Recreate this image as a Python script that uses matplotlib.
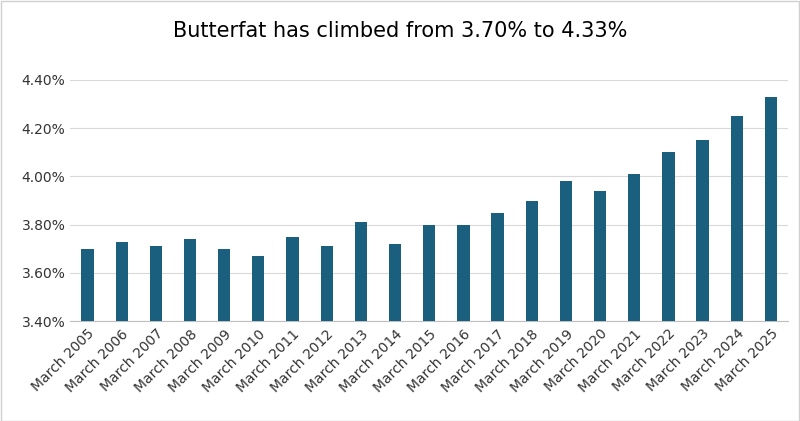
import matplotlib
matplotlib.use("Agg")
import matplotlib.pyplot as plt
from matplotlib.ticker import FuncFormatter

years = list(range(2005, 2026))
labels = [f"March {y}" for y in years]
butterfat = [3.70, 3.73, 3.71, 3.74, 3.70, 3.67, 3.75, 3.71, 3.81, 3.72, 3.80,
             3.80, 3.85, 3.90, 3.98, 3.94, 4.01, 4.10, 4.15, 4.25, 4.33]

fig = plt.figure(figsize=(8, 4.21), dpi=100)
ax = fig.add_axes([0.088, 0.237, 0.897, 0.573])
x = range(len(labels))
ax.bar(x, butterfat, width=0.36, color="#1b5f7f", zorder=3)
ax.set_ylim(3.40, 4.40)
ax.set_yticks([3.40, 3.60, 3.80, 4.00, 4.20, 4.40])
ax.yaxis.set_major_formatter(FuncFormatter(lambda v, p: f"{v:.2f}%"))
ax.set_xlim(-0.5, len(labels) - 0.5)
ax.set_xticks(list(x))
ax.set_xticklabels(labels, rotation=45, ha="right", rotation_mode="anchor")
ax.grid(axis="y", color="#d9d9d9", linewidth=0.8, zorder=0)
for s in ["top", "right", "left"]:
    ax.spines[s].set_visible(False)
ax.spines["bottom"].set_color("#bfbfbf")
ax.tick_params(axis="both", length=0, labelsize=10, colors="#333333")
ax.tick_params(axis="x", pad=4)
fig.suptitle("Butterfat has climbed from 3.70% to 4.33%", y=0.95, fontsize=15)
fig.patches.append(plt.Rectangle((0.001, 0.001), 0.998, 0.997, transform=fig.transFigure,
                                 fill=False, edgecolor="#d0d0d0", linewidth=1))
fig.savefig("out.png", dpi=100)
